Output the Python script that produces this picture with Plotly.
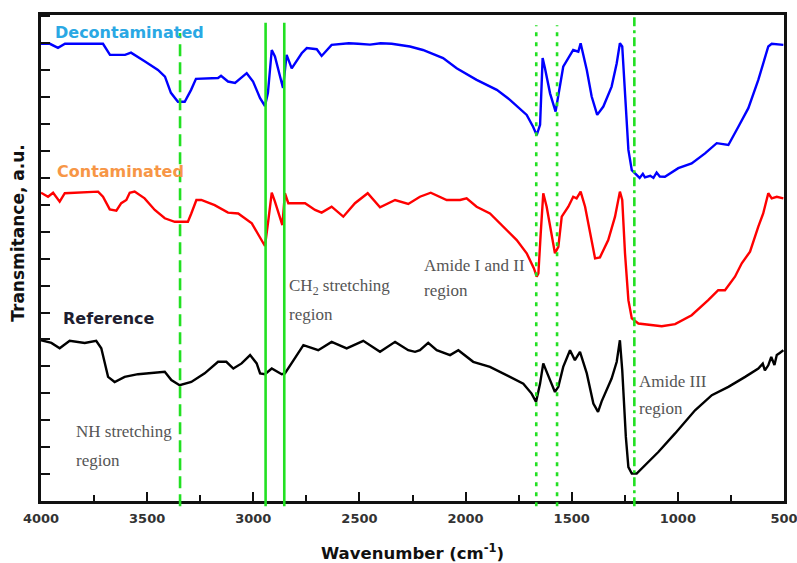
import plotly.graph_objects as go

# ---------------- data ----------------
decon_wn = [4000, 3958, 3920, 3887, 3708, 3675, 3604, 3576, 3510, 3449, 3416, 3388, 3355, 3323,
            3293, 3270, 3166, 3152, 3119, 3086, 3031, 3001, 2968, 2945, 2931, 2913, 2898, 2860,
            2843, 2819, 2772, 2748, 2701, 2678, 2631, 2600, 2550, 2507, 2450, 2400, 2348, 2262,
            2201, 2106, 2042, 1948, 1853, 1791, 1712, 1682, 1665, 1649, 1637, 1626, 1602, 1576,
            1540, 1493, 1469, 1458, 1429, 1406, 1380, 1351, 1312, 1288, 1273, 1262, 1249, 1233,
            1217, 1194, 1180, 1165, 1155, 1130, 1115, 1100, 1085, 1061, 998, 935, 872, 817, 762,
            715, 668, 621, 574, 558, 503]
decon_t = [16.98, 16.98, 16.83, 16.98, 16.98, 16.57, 16.57, 16.65, 16.32, 16.01, 15.76, 15.16, 14.83, 14.83,
           15.27, 15.68, 15.71, 15.79, 15.58, 15.53, 15.89, 15.58, 14.96, 14.67, 15.16, 16.75, 16.51, 15.34,
           16.57, 16.07, 16.63, 16.82, 16.78, 16.53, 16.94, 16.96, 17.00, 16.98, 16.95, 17.00, 16.98, 16.88,
           16.75, 16.45, 16.07, 15.64, 15.27, 14.90, 14.34, 13.90, 13.59, 13.97, 16.45, 16.07, 15.14, 14.46,
           16.13, 16.75, 16.69, 17.00, 16.01, 15.02, 14.34, 14.65, 15.39, 16.26, 17.00, 16.88, 15.14, 13.04,
           12.29, 12.11, 12.00, 12.15, 12.02, 12.08, 12.00, 12.20, 12.05, 12.04, 12.36, 12.54, 12.91, 13.29, 13.22,
           13.90, 14.59, 15.64, 16.88, 16.98, 16.94]

contam_wn = [4000, 3967, 3943, 3912, 3888, 3826, 3731, 3708, 3676, 3645, 3622, 3598, 3582, 3559,
             3512, 3464, 3417, 3370, 3308, 3292, 3268, 3245, 3182, 3119, 3071, 3007, 2968, 2945,
             2929, 2913, 2898, 2863, 2851, 2835, 2756, 2709, 2678, 2631, 2576, 2521, 2461, 2403,
             2332, 2270, 2215, 2164, 2089, 2026, 1995, 1948, 1885, 1822, 1759, 1712, 1678, 1665,
             1657, 1646, 1634, 1618, 1602, 1579, 1563, 1547, 1516, 1493, 1477, 1458, 1437, 1414,
             1390, 1367, 1328, 1296, 1273, 1262, 1249, 1233, 1217, 1186, 1076, 1013, 935, 857,
             810, 778, 731, 699, 660, 621, 598, 574, 558, 534, 503]
contam_t = [11.45, 11.30, 11.45, 11.12, 11.43, 11.45, 11.49, 11.30, 10.83, 10.78, 11.06, 11.18, 11.45, 11.49,
            11.24, 10.81, 10.50, 10.37, 10.37, 10.68, 11.18, 11.18, 10.99, 10.71, 10.68, 10.31, 9.81, 9.47,
            10.43, 11.45, 11.12, 10.25, 11.43, 11.06, 11.06, 10.81, 10.71, 10.93, 10.56, 11.06, 11.43, 10.91,
            11.18, 11.03, 11.30, 11.45, 11.18, 11.18, 11.24, 10.93, 10.68, 10.19, 9.69, 9.20, 8.64, 8.33,
            8.45, 9.94, 11.43, 10.93, 10.19, 9.20, 9.44, 10.56, 10.93, 11.30, 11.24, 11.49, 10.93, 9.94,
            9.01, 9.05, 9.69, 10.56, 11.49, 11.18, 9.20, 7.46, 6.78, 6.59, 6.49, 6.57, 6.90, 7.46,
            7.83, 7.83, 8.33, 8.83, 9.26, 10.19, 10.68, 11.43, 11.24, 11.30, 11.24]

ref_wn = [4000, 3951, 3912, 3865, 3794, 3740, 3716, 3700, 3684, 3653, 3606, 3543, 3480, 3417,
          3386, 3347, 3292, 3229, 3166, 3127, 3094, 3055, 3015, 2984, 2968, 2945, 2913, 2866,
          2851, 2819, 2764, 2694, 2631, 2560, 2482, 2403, 2332, 2270, 2238, 2215, 2176, 2136,
          2073, 2034, 1964, 1885, 1806, 1728, 1689, 1668, 1649, 1634, 1615, 1579, 1563, 1540,
          1508, 1485, 1461, 1429, 1398, 1376, 1359, 1312, 1288, 1273, 1262, 1245, 1233, 1217,
          1194, 1155, 1092, 1013, 919, 840, 762, 683, 621, 600, 590, 574, 560, 545, 534, 520, 503]
ref_t = [5.97, 5.87, 5.67, 5.95, 5.87, 5.95, 5.67, 5.11, 4.61, 4.42, 4.61, 4.71, 4.76, 4.80,
         4.49, 4.30, 4.42, 4.74, 5.17, 5.17, 4.92, 5.11, 5.42, 5.11, 4.74, 4.71, 4.92, 4.71,
         4.74, 5.11, 5.79, 5.60, 5.91, 5.67, 5.95, 5.54, 5.91, 5.60, 5.54, 5.60, 5.87, 5.60,
         5.42, 5.60, 5.17, 4.98, 4.67, 4.36, 3.99, 3.68, 4.36, 5.11, 4.74, 4.05, 4.24, 4.98,
         5.60, 5.23, 5.54, 4.74, 3.62, 3.31, 3.70, 4.55, 5.17, 5.97, 4.86, 2.38, 1.26, 1.02,
         1.02, 1.33, 1.82, 2.51, 3.37, 3.93, 4.24, 4.61, 4.92, 5.10, 4.85, 5.04, 5.35, 5.05, 5.42, 5.50, 5.60]

# marker lines (wavenumber, style)
marker_wn = [3345, 2942, 2854, 1667, 1569, 1205]
marker_dash = ["12px,6px", "solid", "solid", "4px,6px", "4px,6px", "9px,4px,3px,4px"]
marker_top = [0.963, 0.984, 0.984, 0.979, 0.979, 0.998]

x_ticks = [4000, 3500, 3000, 2500, 2000, 1500, 1000, 500]
x_tick_labels = ["4000", "3500", "3000", "2500", "2000", "1500", "1000", "500"]

# ---------------- figure ----------------
fig = go.Figure()
for wn, t, col in [(decon_wn, decon_t, "#0000FF"), (contam_wn, contam_t, "#FF0000"), (ref_wn, ref_t, "#000000")]:
    fig.add_trace(go.Scatter(x=wn, y=t, mode="lines", line=dict(color=col, width=2.4),
                             showlegend=False, hoverinfo="skip"))

for wn, dash, top in zip(marker_wn, marker_dash, marker_top):
    fig.add_shape(type="line", xref="x", yref="paper", x0=wn, x1=wn, y0=-0.011, y1=top,
                  line=dict(color="#22E022", width=2.6, dash=dash), layer="above")

tick_font = dict(family="DejaVu Sans", size=13, color="#333333", weight="bold")
fig.update_xaxes(range=[4000, 500], tickvals=x_ticks, ticktext=x_tick_labels, automargin=False,
                 ticklabeloverflow="allow",
                 ticks="inside", ticklen=9, tickwidth=2, tickcolor="#111111",
                 minor=dict(dtick=250, tick0=500, ticks="inside", ticklen=6, tickwidth=2, tickcolor="#111111"),
                 showline=True, linecolor="#111111", linewidth=2.6, mirror=True,
                 showgrid=False, zeroline=False, tickfont=tick_font, ticklabelstandoff=4)
fig.update_yaxes(range=[0, 18.05], dtick=1, tick0=0, showticklabels=False, automargin=False,
                 ticks="inside", ticklen=9, tickwidth=2, tickcolor="#111111",
                 showline=True, linecolor="#111111", linewidth=2.6, mirror=True,
                 showgrid=False, zeroline=False)

lab = dict(family="DejaVu Sans", size=16, weight="bold")
serif = dict(family="Liberation Serif", size=17, color="#555555")
annos = [
    ("Decontaminated", 0.0162, 0.965, dict(lab, color="#2AA8E4")),
    ("Contaminated", 0.0188, 0.677, dict(lab, color="#F79646")),
    ("Reference", 0.0269, 0.376, dict(lab, color="#1E1E30")),
    ("CH<sub>2</sub> stretching", 0.331, 0.440, serif),
    ("region", 0.331, 0.3844, serif),
    ("Amide I and II", 0.5128, 0.4853, serif),
    ("region", 0.5128, 0.4338, serif),
    ("Amide III", 0.802, 0.245, serif),
    ("region", 0.802, 0.1909, serif),
    ("NH stretching", 0.0444, 0.1421, serif),
    ("region", 0.0444, 0.0838, serif),
]
for txt, x, y, f in annos:
    fig.add_annotation(text=txt, x=x, y=y, xref="paper", yref="paper", xanchor="left",
                       yanchor="middle", showarrow=False, font=f)

fig.add_annotation(text="Wavenumber (cm<sup>-1</sup>)", x=0.5, y=-0.1056, xref="paper", yref="paper",
                   xanchor="center", yanchor="middle", showarrow=False,
                   font=dict(family="DejaVu Sans", size=16.5, color="#111111", weight="bold"))
fig.add_annotation(text="Transmitance, a.u.", x=-0.0303, y=0.553, xref="paper", yref="paper",
                   xanchor="center", yanchor="middle", showarrow=False, textangle=-90,
                   font=dict(family="DejaVu Sans", size=17, color="#111111", weight="bold"))

fig.update_layout(width=797, height=563, margin=dict(l=41, r=13, t=15, b=62, autoexpand=False),
                  paper_bgcolor="white", plot_bgcolor="white", showlegend=False)

fig.write_html("out.html", config={"displayModeBar": False},
               post_script="document.body.style.margin='0';document.body.style.overflow='hidden';")
